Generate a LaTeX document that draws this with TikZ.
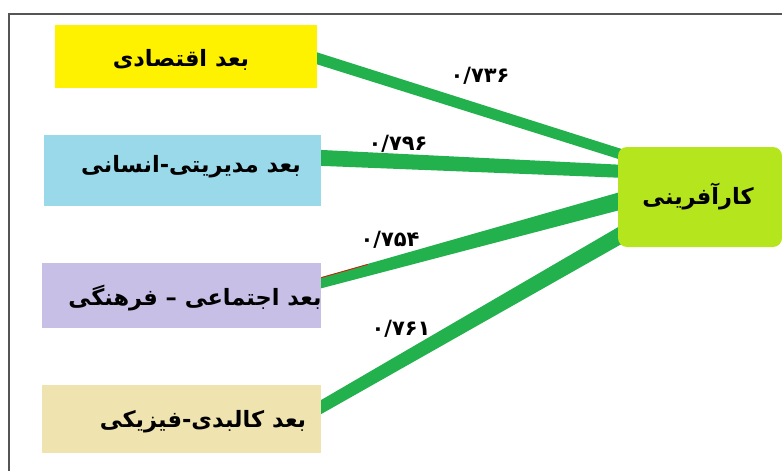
\documentclass[tikz,border=0pt]{standalone}
\usepackage{fontspec}
\TeXXeTstate=1
\newfontfamily\arabicfont[Script=Arabic]{DejaVu Sans}
\usetikzlibrary{backgrounds,calc}
\definecolor{cyel}{HTML}{FFF200}
\definecolor{cblue}{HTML}{99D9EA}
\definecolor{clav}{HTML}{C8BFE7}
\definecolor{cwheat}{HTML}{EFE4B0}
\definecolor{cline}{HTML}{22B14C}
\definecolor{ctarget}{HTML}{B5E61D}
\definecolor{cframe}{HTML}{555555}
\tikzset{
  box/.style={rectangle, draw=none, inner sep=0pt},
  target/.style={rectangle, rounded corners=9pt, fill=ctarget, draw=none, inner sep=0pt},
  boxtext/.style={font=\arabicfont\bfseries\fontsize{22.5}{26}\selectfont, inner sep=0pt},
  numtext/.style={font=\arabicfont\bfseries\fontsize{21}{24}\selectfont, inner sep=0pt},
  link/.style={fill=cline, draw=none},
  frameline/.style={draw=cframe, line width=1.5pt}
}
% tapered connector: start, end, start thickness, end thickness (vertical)
\newcommand\taperlink[4]{%
  \path[link] ($(#1)+(0,-#3/2)$) -- ($(#2)+(0,-#4/2)$) -- ($(#2)+(0,#4/2)$) -- ($(#1)+(0,#3/2)$) -- cycle;}
\begin{document}
\begin{tikzpicture}[x=1pt,y=-1pt]
\useasboundingbox (0,0) rectangle (782,471);
\draw[frameline] (9,471) -- (9,14) -- (782,14);
% boxes
\node[box, fill=cyel, minimum width=262, minimum height=63] (b1) at (186,56.5) {};
\node[box, fill=cblue, minimum width=277, minimum height=71] (b2) at (182.5,170.5) {};
\node[box, fill=clav, minimum width=279, minimum height=65] (b3) at (181.5,295.5) {};
\node[box, fill=cwheat, minimum width=279, minimum height=68] (b4) at (181.5,419) {};
\node[target, minimum width=164, minimum height=100] (t) at (700,197) {};
% texts
\node[boxtext] (t1) at (181,60) {\beginR بعد اقتصادی\endR};
\node[boxtext] (t2) at (191,167) {\beginR بعد مدیریتی-انسانی\endR};
\node[boxtext] (t3) at (195,298) {\beginR بعد اجتماعی – فرهنگی\endR};
\node[boxtext] (t4) at (203,422) {\beginR بعد کالبدی-فیزیکی\endR};
\node[boxtext] (tt) at (698,196) {\beginR کارآفرینی\endR};
% connector anchors
\coordinate (s1) at ($(b1.north east)!0.50!(b1.south east)+(-6,0)$);
\coordinate (s2) at ($(b2.north east)!0.32!(b2.south east)+(-6,0)$);
\coordinate (s3) at ($(b3.north east)!0.33!(b3.south east)+(-6,0)$);
\coordinate (s4) at ($(b4.north east)!0.375!(b4.south east)+(-6,0)$);
\coordinate (e1) at ($(t.north west)+(8,9)$);
\coordinate (e2) at ($(t.north west)!0.245!(t.south west)+(6,0)$);
\coordinate (e3) at ($(t.north west)!0.53!(t.south west)+(6,0)$);
\coordinate (e4) at ($(t.north west)!0.85!(t.south west)+(8,0)$);
\begin{scope}[on background layer]
\taperlink{s1}{e1}{12}{11}
\taperlink{s2}{e2}{16}{13}
\taperlink{s3}{e3}{11}{18}
\taperlink{s4}{e4}{14}{19}
\end{scope}
\draw[red, line width=0.7pt] ($(s3)!0.02!(e3)+(0,-5.1)$) -- ($(s3)!0.17!(e3)+(0,-5.6)$);
% weights
\node[numtext] (w1) at (480,76) {۰/۷۳۶};
\node[numtext] (w2) at (398,144) {۰/۷۹۶};
\node[numtext] (w3) at (390,240) {۰/۷۵۴};
\node[numtext] (w4) at (401,329) {۰/۷۶۱};
\end{tikzpicture}
\end{document}
